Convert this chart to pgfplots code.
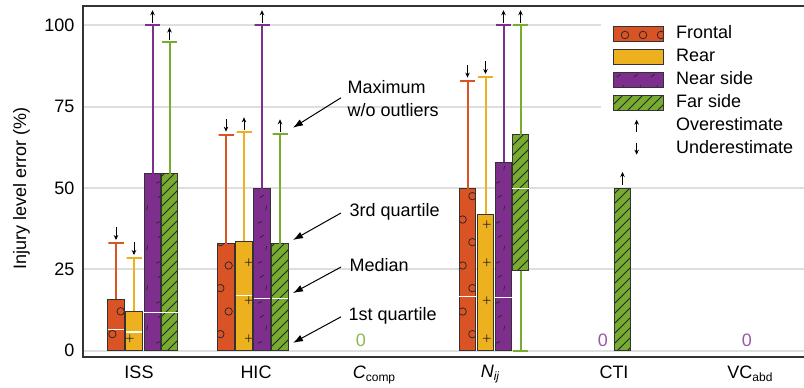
\documentclass[border=0pt]{standalone}
\usepackage{fontspec}
\setmainfont{Liberation Sans}
\usepackage{pgfplots}
\pgfplotsset{compat=1.18}
\usetikzlibrary{patterns,arrows.meta}

\definecolor{cF}{RGB}{217,83,37}
\definecolor{cR}{RGB}{237,177,32}
\definecolor{cN}{RGB}{126,47,142}
\definecolor{cA}{RGB}{119,172,48}

\pgfdeclarepatternformonly{circs}{\pgfpoint{0pt}{0pt}}{\pgfpoint{18pt}{46pt}}{\pgfpoint{18pt}{46pt}}{%
  \pgfsetlinewidth{0.75pt}%
  \pgfpathcircle{\pgfpoint{4.5pt}{8pt}}{3.8pt}\pgfusepath{stroke}%
  \pgfpathcircle{\pgfpoint{13pt}{31pt}}{3.8pt}\pgfusepath{stroke}%
}
\pgfdeclarepatternformonly{pluses}{\pgfpoint{0pt}{0pt}}{\pgfpoint{17pt}{38pt}}{\pgfpoint{17pt}{38pt}}{%
  \pgfsetlinewidth{0.75pt}%
  \pgfpathmoveto{\pgfpoint{7pt}{12pt}}\pgfpathlineto{\pgfpoint{15pt}{12pt}}%
  \pgfpathmoveto{\pgfpoint{11pt}{8pt}}\pgfpathlineto{\pgfpoint{11pt}{16pt}}%
  \pgfusepath{stroke}%
}
\pgfdeclarepatternformonly{dashes}{\pgfpoint{0pt}{0pt}}{\pgfpoint{17pt}{40pt}}{\pgfpoint{17pt}{40pt}}{%
  \pgfsetlinewidth{0.7pt}%
  \pgfpathmoveto{\pgfpoint{3pt}{5pt}}\pgfpathlineto{\pgfpoint{7.5pt}{6.5pt}}%
  \pgfpathmoveto{\pgfpoint{11pt}{18pt}}\pgfpathlineto{\pgfpoint{12pt}{22.5pt}}%
  \pgfpathmoveto{\pgfpoint{5pt}{31pt}}\pgfpathlineto{\pgfpoint{9pt}{33.5pt}}%
  \pgfusepath{stroke}%
}
\pgfdeclarepatternformonly{hatch}{\pgfpoint{-1pt}{-1pt}}{\pgfpoint{11pt}{11pt}}{\pgfpoint{10pt}{10pt}}{%
  \pgfsetlinewidth{0.75pt}%
  \pgfpathmoveto{\pgfpoint{0pt}{0pt}}\pgfpathlineto{\pgfpoint{10pt}{10pt}}%
  \pgfusepath{stroke}%
}

\newcommand{\fs}{\fontsize{18}{23}\selectfont}

\pgfplotsset{
  boxbase/.style={forget plot, draw=black!80, line width=0.9pt, pattern color=black!85},
  fF/.style={boxbase, fill=cF, postaction={pattern=circs}},
  fR/.style={boxbase, fill=cR, postaction={pattern=pluses}},
  fN/.style={boxbase, fill=cN, postaction={pattern=dashes}},
  fA/.style={boxbase, fill=cA, postaction={pattern=hatch}},
  wF/.style={forget plot, draw=cF, line width=2pt},
  wR/.style={forget plot, draw=cR, line width=2pt},
  wN/.style={forget plot, draw=cN, line width=2pt},
  wA/.style={forget plot, draw=cA, line width=2pt},
  md/.style={forget plot, draw=white, line width=1.3pt},
  ar/.style={forget plot, black, line width=0.9pt, -{Stealth[length=5pt,width=4.5pt]}},
}

\begin{document}
\begin{tikzpicture}
\begin{axis}[
  at={(83pt,31pt)}, anchor=south west,
  scale only axis, width=723pt, height=351pt,
  xmin=83, xmax=806, ymin=-1.94, ymax=105.9,
  axis line style={draw=black!80, line width=1.6pt},
  ytick={0,25,50,75,100},
  xtick={139,256,374,490,614,750},
  xticklabels={ISS, HIC, {{\itshape C}\raisebox{-3pt}{\fontsize{12}{12}\selectfont comp}}, {{\itshape N}\raisebox{-3pt}{\fontsize{12}{12}\selectfont\itshape ij}}, CTI, {VC\raisebox{-3pt}{\fontsize{12}{12}\selectfont abd}}},
  major tick length=0pt,
  /pgf/number format/assume math mode=true,
  tick label style={font=\fs},
  yticklabel style={xshift=-5pt},
  xticklabel style={yshift=-5pt},
  ymajorgrids, major grid style={draw=black!13, line width=2pt},
  ylabel={Injury level error (\%)},
  ylabel style={font=\fs, at={(axis description cs:-0.085,0.48)}, anchor=center},
  clip=false,
  legend style={at={(axis cs:601,105.9)}, anchor=north west, yshift=-9pt, draw=none, fill=white,
    inner xsep=12pt, inner ysep=10pt, font=\fs, row sep=6pt,
    nodes={inner sep=0pt, text height=13pt, text depth=4pt},
    /tikz/every odd column/.style={column sep=12pt}},
  legend cell align=left,
]
% ===== ISS =====
% Frontal: Q1 0, median 6.6, Q3 15.8, max 33.0
\addplot[fF] coordinates {(107.75,0) (124.25,0) (124.25,15.8) (107.75,15.8)} --cycle;
\addplot[md] coordinates {(107.75,6.6) (124.25,6.6)};
\addplot[wF] coordinates {(116,15.8) (116,33.0) (108.5,33.0) (123.5,33.0)};
% Rear: 0, 5.7, 12.2, 28.4
\addplot[fR] coordinates {(125.75,0) (142.25,0) (142.25,12.2) (125.75,12.2)} --cycle;
\addplot[md] coordinates {(125.75,5.7) (142.25,5.7)};
\addplot[wR] coordinates {(134,12.2) (134,28.4) (126.5,28.4) (141.5,28.4)};
% Near side: 0, 11.7, 54.3, 100
\addplot[fN] coordinates {(144.25,0) (160.75,0) (160.75,54.3) (144.25,54.3)} --cycle;
\addplot[md] coordinates {(144.25,11.7) (160.75,11.7)};
\addplot[wN] coordinates {(152.5,54.3) (152.5,100) (145,100) (160,100)};
% Far side: 0, 11.7, 54.3, 94.7
\addplot[fA] coordinates {(161.25,0) (177.75,0) (177.75,54.3) (161.25,54.3)} --cycle;
\addplot[md] coordinates {(161.25,11.7) (177.75,11.7)};
\addplot[wA] coordinates {(169.5,54.3) (169.5,94.7) (162,94.7) (177,94.7)};
% ===== HIC =====
\addplot[fF] coordinates {(217.75,0) (234.25,0) (234.25,32.9) (217.75,32.9)} --cycle;
\addplot[wF] coordinates {(226,32.9) (226,66.3) (218.5,66.3) (233.5,66.3)};
\addplot[fR] coordinates {(235.75,0) (252.25,0) (252.25,33.7) (235.75,33.7)} --cycle;
\addplot[md] coordinates {(235.75,16.9) (252.25,16.9)};
\addplot[wR] coordinates {(244,33.7) (244,67.1) (236.5,67.1) (251.5,67.1)};
\addplot[fN] coordinates {(253.75,0) (270.25,0) (270.25,49.7) (253.75,49.7)} --cycle;
\addplot[md] coordinates {(253.75,16.1) (270.25,16.1)};
\addplot[wN] coordinates {(262,49.7) (262,100) (254.5,100) (269.5,100)};
\addplot[fA] coordinates {(271.75,0) (288.25,0) (288.25,32.9) (271.75,32.9)} --cycle;
\addplot[md] coordinates {(271.75,16.1) (288.25,16.1)};
\addplot[wA] coordinates {(280,32.9) (280,66.5) (272.5,66.5) (287.5,66.5)};
% ===== Nij =====
\addplot[fF] coordinates {(459.25,0) (475.75,0) (475.75,49.7) (459.25,49.7)} --cycle;
\addplot[md] coordinates {(459.25,16.6) (475.75,16.6)};
\addplot[wF] coordinates {(467.5,49.7) (467.5,82.9) (460,82.9) (475,82.9)};
\addplot[fR] coordinates {(477.25,0) (493.75,0) (493.75,41.9) (477.25,41.9)} --cycle;
\addplot[wR] coordinates {(485.5,41.9) (485.5,84.0) (478,84.0) (493,84.0)};
\addplot[fN] coordinates {(495.25,0) (511.75,0) (511.75,57.9) (495.25,57.9)} --cycle;
\addplot[md] coordinates {(495.25,16.3) (511.75,16.3)};
\addplot[wN] coordinates {(503.5,57.9) (503.5,100) (496,100) (511,100)};
\addplot[fA] coordinates {(512.25,24.6) (528.75,24.6) (528.75,66.4) (512.25,66.4)} --cycle;
\addplot[md] coordinates {(512.25,49.8) (528.75,49.8)};
\addplot[wA] coordinates {(520.5,66.4) (520.5,100) (513,100) (528,100)};
\addplot[wA] coordinates {(520.5,24.6) (520.5,0) (513,0) (528,0)};
% ===== CTI =====
\addplot[fA] coordinates {(614.25,0) (630.75,0) (630.75,49.7) (614.25,49.7)} --cycle;

% over/underestimate arrows
\addplot[ar] coordinates {(116,37.9) (116,34.0)};
\addplot[ar] coordinates {(134,33.3) (134,29.4)};
\addplot[ar] coordinates {(152.5,100.6) (152.5,104.6)};
\addplot[ar] coordinates {(169.5,95.3) (169.5,99.3)};
\addplot[ar] coordinates {(226,71.2) (226,67.3)};
\addplot[ar] coordinates {(244,67.7) (244,71.7)};
\addplot[ar] coordinates {(262,100.6) (262,104.6)};
\addplot[ar] coordinates {(280,67.1) (280,71.1)};
\addplot[ar] coordinates {(467.5,87.8) (467.5,83.9)};
\addplot[ar] coordinates {(485.5,88.9) (485.5,85.0)};
\addplot[ar] coordinates {(503.5,100.6) (503.5,104.6)};
\addplot[ar] coordinates {(520.5,100.6) (520.5,104.6)};
\addplot[ar] coordinates {(622.5,50.9) (622.5,54.9)};

% zero labels
\node[font=\fs, text=cA!85!white] at (axis cs:361,3.3) {0};
\node[font=\fs, text=cN!80!white] at (axis cs:603,3.3) {0};
\node[font=\fs, text=cN!80!white] at (axis cs:747,3.3) {0};

% annotations
\node[font=\fs, anchor=west, align=left] at (axis cs:344,77.5) {Maximum\\w/o outliers};
\draw[-{Latex[length=10pt,width=7pt]}, line width=1pt] (axis cs:341,77.7) -- (axis cs:293,68.5);
\node[font=\fs, anchor=west] at (axis cs:346,42.6) {3rd quartile};
\draw[-{Latex[length=10pt,width=7pt]}, line width=1pt] (axis cs:341,42.3) -- (axis cs:293,34.0);
\node[font=\fs, anchor=west] at (axis cs:346,26.3) {Median};
\draw[-{Latex[length=10pt,width=7pt]}, line width=1pt] (axis cs:341,25.7) -- (axis cs:293,17.7);
\node[font=\fs, anchor=west] at (axis cs:345,10.7) {1st quartile};
\draw[-{Latex[length=10pt,width=7pt]}, line width=1pt] (axis cs:341,10.4) -- (axis cs:293,2.4);

% legend
\addlegendimage{legend image code/.code={\draw[draw=black!80, line width=0.9pt, fill=cF, pattern color=black!85, postaction={pattern=circs}] (0pt,-7.5pt) rectangle (50pt,7.5pt);}}
\addlegendentry{Frontal}
\addlegendimage{legend image code/.code={\draw[draw=black!80, line width=0.9pt, fill=cR, pattern color=black!85, postaction={pattern=pluses}] (0pt,-7.5pt) rectangle (50pt,7.5pt);}}
\addlegendentry{Rear}
\addlegendimage{legend image code/.code={\draw[draw=black!80, line width=0.9pt, fill=cN, pattern color=black!85, postaction={pattern=dashes}] (0pt,-7.5pt) rectangle (50pt,7.5pt);}}
\addlegendentry{Near side}
\addlegendimage{legend image code/.code={\draw[draw=black!80, line width=0.9pt, fill=cA, pattern color=black!85, postaction={pattern=hatch}] (0pt,-7.5pt) rectangle (50pt,7.5pt);}}
\addlegendentry{Far side}
\addlegendimage{legend image code/.code={\draw[black, line width=0.9pt, -{Stealth[length=5pt,width=4.5pt]}] (23pt,-6pt) -- (23pt,6pt); \path (0pt,0pt) (50pt,0pt);}}
\addlegendentry{Overestimate}
\addlegendimage{legend image code/.code={\draw[black, line width=0.9pt, -{Stealth[length=5pt,width=4.5pt]}] (23pt,6pt) -- (23pt,-6pt); \path (0pt,0pt) (50pt,0pt);}}
\addlegendentry{Underestimate}
\end{axis}
\pgfresetboundingbox
\path (0pt,0pt) rectangle (804pt,388pt);
\end{tikzpicture}
\end{document}
